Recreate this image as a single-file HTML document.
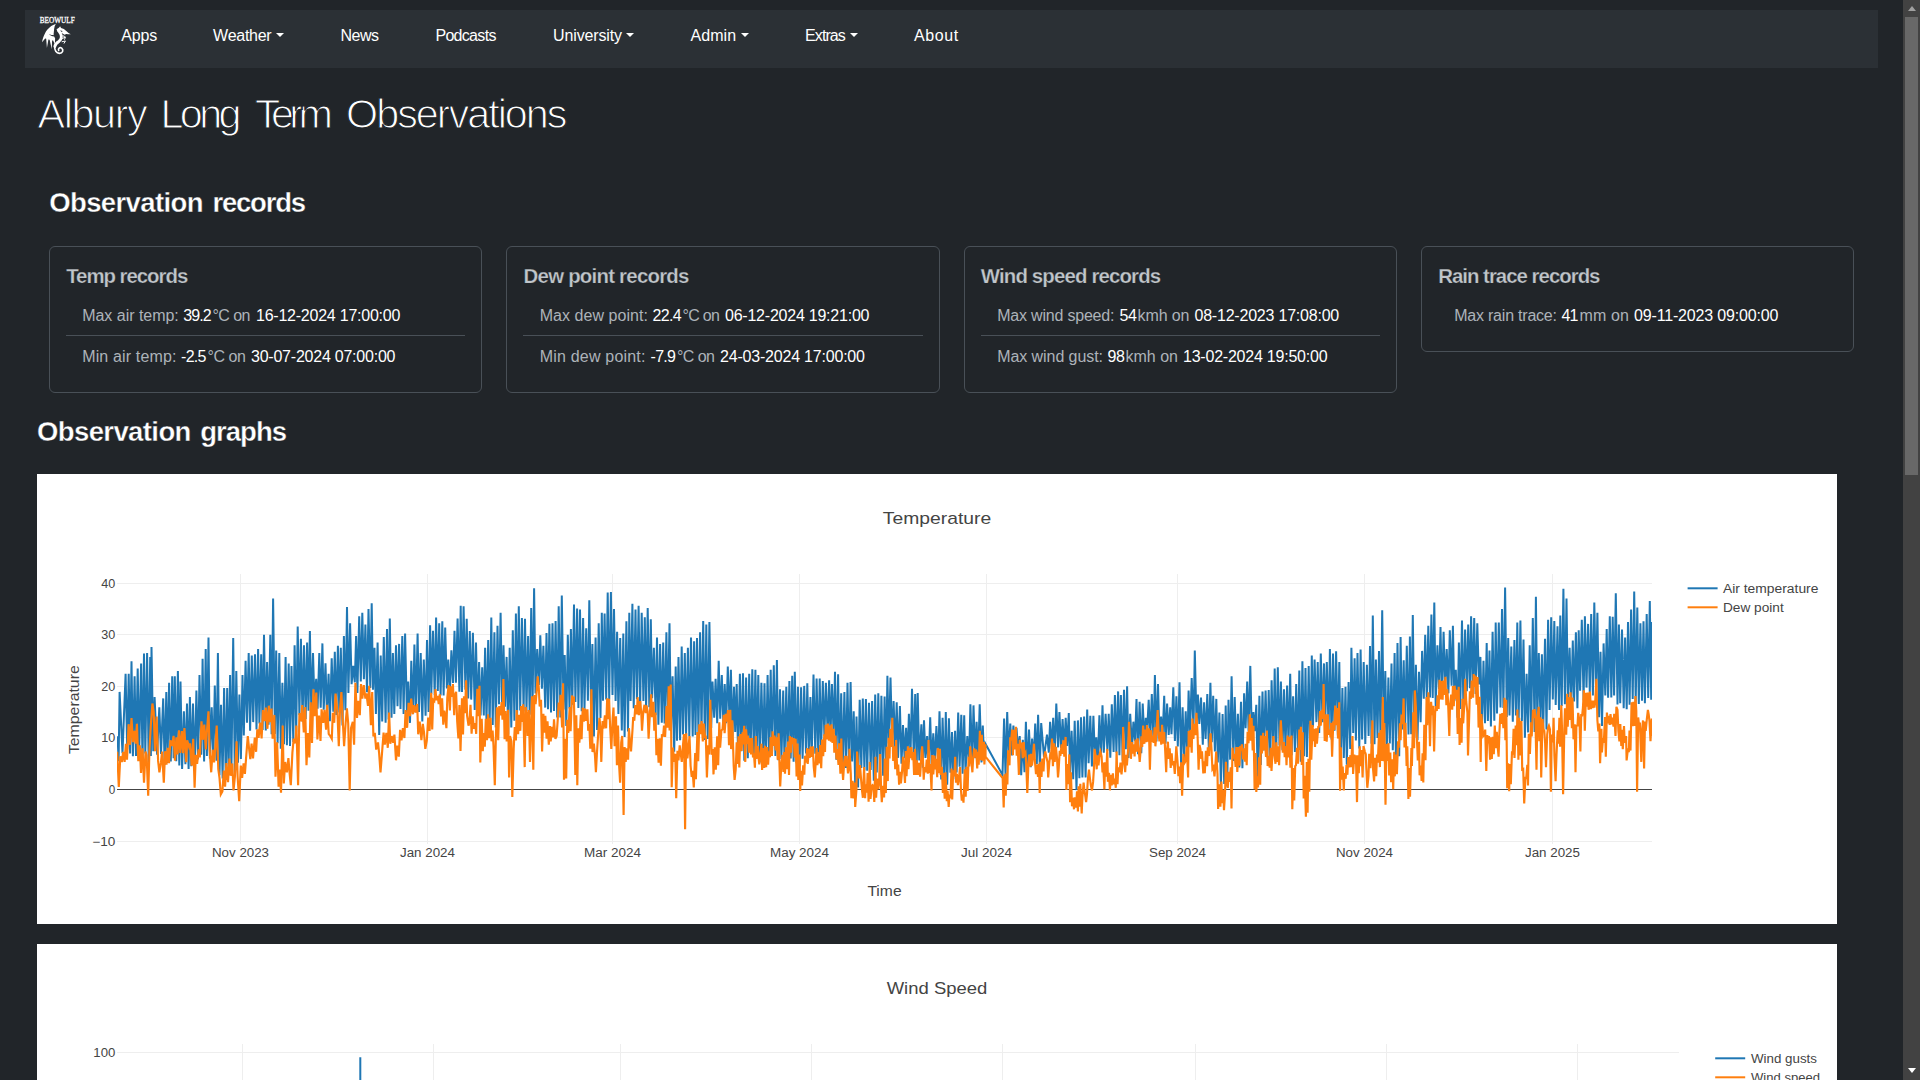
<!DOCTYPE html>
<html lang="en">
<head>
<meta charset="utf-8">
<title>Albury Long Term Observations</title>
<style>
html,body{margin:0;padding:0}
body{width:1920px;height:1080px;overflow:hidden;position:relative;background:#212529;font-family:"Liberation Sans",sans-serif;color:#dee2e6}
.t{position:absolute;margin:0;white-space:pre;line-height:1;font-weight:400;text-decoration:none}
h1,h2{position:absolute;left:0;top:0;margin:0;font-size:16px;font-weight:400;line-height:1;white-space:pre}
.navbar{position:absolute;left:25px;top:10px;width:1853px;height:58px;background:#2b3035}
.caret{position:absolute;top:23.2px;width:0;height:0;border-left:4.2px solid transparent;border-right:4.2px solid transparent;border-top:4.2px solid #fff}
.card{position:absolute;border:1px solid #495057;border-radius:6px;background:#212529}
.sep{position:absolute;left:16px;right:16px;height:1px;background:#495057}
.chart{position:absolute;left:37px;width:1800px;height:450px;background:#fff;overflow:hidden}
.plot{display:block}
.sb{position:absolute;left:1903px;top:0;width:17px;height:1080px;background:#424242}
.sb .thumb{position:absolute;left:2px;top:17px;width:13px;height:458px;background:#686868}
.sb .up{position:absolute;left:4.5px;top:6px;width:0;height:0;border-left:4px solid transparent;border-right:4px solid transparent;border-bottom:5px solid #a0a0a0}
.sb .down{position:absolute;left:4.5px;top:1068px;width:0;height:0;border-left:4px solid transparent;border-right:4px solid transparent;border-top:5px solid #fff}
.brand{position:absolute;left:11px;top:4px;width:44px;height:44px;display:block}
.brand svg{display:block}
.h1{-webkit-text-stroke:1.1px #212529}
.h2{-webkit-text-stroke:.35px #212529}
.ct{-webkit-text-stroke:.25px #212529}

</style>
</head>
<body>
<nav class="navbar">
<a class="brand"><svg width="44" height="44" viewBox="0 0 1080 1080" fill="#fff" stroke="none"><text x="522" y="218" font-family="Liberation Serif, serif" font-size="190" text-anchor="middle" textLength="860" lengthAdjust="spacingAndGlyphs" fill="#fff" stroke="#fff" stroke-width="7">BEOWULF</text><path d="M485,245C385,268 285,355 225,465C182,548 160,622 148,692L225,600L250,610L268,832L305,625L335,630L386,868L395,650L420,650L462,742L470,600C450,570 440,540 432,500C440,440 440,400 446,360C450,320 462,280 485,245Z"/><path d="M318,492C350,535 420,560 470,548L480,520C420,525 360,515 318,492Z" fill="#2b3035"/><path d="M505,372L562,340L592,300L615,345L684,366L742,420L806,470L856,498L792,500L742,488L702,512L642,470L584,462L528,440Z"/><path d="M600,400L650,420L640,445L596,432Z" fill="#2b3035" opacity=".75"/><path d="M650,515L722,548L700,566L640,548Z" opacity=".85"/><g fill="none" stroke="#fff" stroke-linecap="round" stroke-linejoin="round"><path d="M575,440C640,520 640,620 560,675C500,712 470,750 462,800" stroke-width="70"/><path d="M460,790C450,890 500,962 575,966C655,966 685,885 630,838C585,808 535,845 556,893" stroke-width="40"/><path d="M650,600L722,565L702,622M640,680L722,662L690,718" stroke-width="24"/></g><path d="M545,560a22,22 0 1,0 1,0Z M500,612a24,24 0 1,0 1,0Z" fill="#2b3035" opacity=".8"/></svg></a>

<a class="t" style="left:96.20px;top:17.76px;font-size:16px;letter-spacing:-0.133px;color:#fff;">Apps</a>
<a class="t" style="left:188.10px;top:17.76px;font-size:16px;letter-spacing:-0.267px;color:#fff;">Weather</a>
<i class="caret" style="left:251.1px"></i>
<a class="t" style="left:315.60px;top:17.76px;font-size:16px;letter-spacing:-0.567px;color:#fff;">News</a>
<a class="t" style="left:410.40px;top:17.76px;font-size:16px;letter-spacing:-0.686px;color:#fff;">Podcasts</a>
<a class="t" style="left:528.10px;top:17.76px;font-size:16px;letter-spacing:-0.144px;color:#fff;">University</a>
<i class="caret" style="left:601.0px"></i>
<a class="t" style="left:665.50px;top:17.76px;font-size:16px;letter-spacing:0.075px;color:#fff;">Admin</a>
<i class="caret" style="left:715.6px"></i>
<a class="t" style="left:780.10px;top:17.76px;font-size:16px;letter-spacing:-0.920px;color:#fff;">Extras</a>
<i class="caret" style="left:825.0px"></i>
<a class="t" style="left:889.10px;top:17.76px;font-size:16px;letter-spacing:0.600px;color:#fff;">About</a>
</nav>
<main>
<h1 class="h1"><span class="t" style="left:37.50px;top:93.94px;font-size:41.3px;letter-spacing:-1.360px;color:#fff;">Albury</span> <span class="t" style="left:160.50px;top:93.94px;font-size:41.3px;letter-spacing:-3.600px;color:#fff;">Long</span> <span class="t" style="left:254.90px;top:93.94px;font-size:41.3px;letter-spacing:-4.567px;color:#fff;">Term</span> <span class="t" style="left:346.10px;top:93.94px;font-size:41.3px;letter-spacing:-2.000px;color:#fff;">Observations</span></h1>
<h2 class="h2"><span class="t" style="left:49.20px;top:188.72px;font-size:27.5px;letter-spacing:-0.610px;color:#fff;font-weight:700;">Observation</span> <span class="t" style="left:212.50px;top:188.72px;font-size:27.5px;letter-spacing:-1.233px;color:#fff;font-weight:700;">records</span></h2>
<section class="cards">
<div class="card" style="left:49px;top:246px;width:431.25px;height:145px"><span class="t ct" style="left:16.20px;top:18.83px;font-size:20.4px;letter-spacing:-1.027px;color:#c0c5ca;font-weight:700;">Temp records</span><span class="t" style="left:32.20px;top:61.26px;font-size:16px;letter-spacing:-0.025px;color:#adb3b9;">Max air temp:</span><span class="t" style="left:133.30px;top:61.26px;font-size:16px;letter-spacing:-0.967px;color:#fff;">39.2</span><span class="t" style="left:162.50px;top:61.26px;font-size:16px;letter-spacing:-0.550px;color:#adb3b9;">°C on</span><span class="t" style="left:206.00px;top:61.26px;font-size:16px;letter-spacing:-0.233px;color:#fff;">16-12-2024 17:00:00</span><i class="sep" style="top:88px"></i><span class="t" style="left:32.20px;top:102.26px;font-size:16px;letter-spacing:0.150px;color:#adb3b9;">Min air temp:</span><span class="t" style="left:131.00px;top:102.26px;font-size:16px;letter-spacing:-0.700px;color:#fff;">-2.5</span><span class="t" style="left:157.50px;top:102.26px;font-size:16px;letter-spacing:-0.425px;color:#adb3b9;">°C on</span><span class="t" style="left:201.00px;top:102.26px;font-size:16px;letter-spacing:-0.228px;color:#fff;">30-07-2024 07:00:00</span></div>
<div class="card" style="left:506.25px;top:246px;width:431.25px;height:145px"><span class="t ct" style="left:16.35px;top:18.83px;font-size:20.4px;letter-spacing:-0.756px;color:#c0c5ca;font-weight:700;">Dew point records</span><span class="t" style="left:32.45px;top:61.26px;font-size:16px;letter-spacing:0.054px;color:#adb3b9;">Max dew point:</span><span class="t" style="left:145.25px;top:61.26px;font-size:16px;letter-spacing:-0.700px;color:#fff;">22.4</span><span class="t" style="left:175.25px;top:61.26px;font-size:16px;letter-spacing:-0.675px;color:#adb3b9;">°C on</span><span class="t" style="left:217.75px;top:61.26px;font-size:16px;letter-spacing:-0.228px;color:#fff;">06-12-2024 19:21:00</span><i class="sep" style="top:88px"></i><span class="t" style="left:32.45px;top:102.26px;font-size:16px;letter-spacing:0.200px;color:#adb3b9;">Min dew point:</span><span class="t" style="left:143.25px;top:102.26px;font-size:16px;letter-spacing:-0.700px;color:#fff;">-7.9</span><span class="t" style="left:169.75px;top:102.26px;font-size:16px;letter-spacing:-0.550px;color:#adb3b9;">°C on</span><span class="t" style="left:212.75px;top:102.26px;font-size:16px;letter-spacing:-0.200px;color:#fff;">24-03-2024 17:00:00</span></div>
<div class="card" style="left:963.5px;top:246px;width:431.25px;height:145px"><span class="t ct" style="left:16.30px;top:18.83px;font-size:20.4px;letter-spacing:-0.847px;color:#c0c5ca;font-weight:700;">Wind speed records</span><span class="t" style="left:32.70px;top:61.26px;font-size:16px;letter-spacing:-0.200px;color:#adb3b9;">Max wind speed:</span><span class="t" style="left:155.00px;top:61.26px;font-size:16px;letter-spacing:-0.300px;color:#fff;">54</span><span class="t" style="left:173.00px;top:61.26px;font-size:16px;letter-spacing:-0.100px;color:#adb3b9;">kmh on</span><span class="t" style="left:230.00px;top:61.26px;font-size:16px;letter-spacing:-0.211px;color:#fff;">08-12-2023 17:08:00</span><i class="sep" style="top:88px"></i><span class="t" style="left:32.70px;top:102.26px;font-size:16px;letter-spacing:-0.069px;color:#adb3b9;">Max wind gust:</span><span class="t" style="left:143.00px;top:102.26px;font-size:16px;letter-spacing:-0.300px;color:#fff;">98</span><span class="t" style="left:161.00px;top:102.26px;font-size:16px;letter-spacing:0.000px;color:#adb3b9;">kmh on</span><span class="t" style="left:218.50px;top:102.26px;font-size:16px;letter-spacing:-0.222px;color:#fff;">13-02-2024 19:50:00</span></div>
<div class="card" style="left:1420.75px;top:246px;width:431.25px;height:104px"><span class="t ct" style="left:16.45px;top:18.83px;font-size:20.4px;letter-spacing:-0.988px;color:#c0c5ca;font-weight:700;">Rain trace records</span><span class="t" style="left:32.45px;top:61.26px;font-size:16px;letter-spacing:-0.214px;color:#adb3b9;">Max rain trace:</span><span class="t" style="left:139.75px;top:61.26px;font-size:16px;letter-spacing:-0.800px;color:#fff;">41</span><span class="t" style="left:157.75px;top:61.26px;font-size:16px;letter-spacing:0.150px;color:#adb3b9;">mm on</span><span class="t" style="left:212.25px;top:61.26px;font-size:16px;letter-spacing:-0.161px;color:#fff;">09-11-2023 09:00:00</span></div>
</section>
<h2 class="h2"><span class="t" style="left:37.00px;top:417.62px;font-size:27.5px;letter-spacing:-0.610px;color:#fff;font-weight:700;">Observation</span> <span class="t" style="left:200.30px;top:417.62px;font-size:27.5px;letter-spacing:-1.000px;color:#fff;font-weight:700;">graphs</span></h2>
<div class="chart" style="top:474px"><svg class="plot" width="1800" height="450" viewBox="0 0 1800 450" font-family="Liberation Sans, sans-serif"><defs><clipPath id="cp1"><rect x="80" y="100" width="1535" height="270"/></clipPath></defs><path d="M203.5,100V370" stroke="#eee"/><path d="M390.5,100V370" stroke="#eee"/><path d="M575.5,100V370" stroke="#eee"/><path d="M762.5,100V370" stroke="#eee"/><path d="M949.5,100V370" stroke="#eee"/><path d="M1140.5,100V370" stroke="#eee"/><path d="M1327.5,100V370" stroke="#eee"/><path d="M1515.5,100V370" stroke="#eee"/><path d="M80,109.5H1615" stroke="#eee"/><path d="M80,160.5H1615" stroke="#eee"/><path d="M80,212.5H1615" stroke="#eee"/><path d="M80,263.5H1615" stroke="#eee"/><path d="M80,367.5H1615" stroke="#eee"/><path d="M80,315.5H1615" stroke="#444"/><g clip-path="url(#cp1)" fill="none" stroke-width="2"><path d="M80.6,262.2L81.6,287.3L82.6,217.9L85.5,279.1L88.6,199.7L90.2,275.4L91.7,199.7L93.1,279.5L94.5,187.3L95.9,282.2L97.6,202.3L99,282L100.7,194.5L102.2,277.8L104.1,189.4L105.5,288.1L107,179.5L108.3,279.6L110.1,179L111.7,289.8L113.2,182.9L113.9,282.1L114.5,173L116.3,277.2L117.6,223.1L120.1,280.8L122.3,233.4L124,279.9L126.2,224.4L127.6,291.1L129.3,217.9L130.5,289L132.1,208.8L133.8,287.4L135.2,202.3L136.6,284.2L137.8,202.3L139.2,287.2L140.9,197.1L142.3,291.6L143.5,207.5L145.1,294.9L146.9,237.3L148.4,290.2L150,229.5L151.6,294.9L152.9,223.1L154.3,292.3L156,229.5L157.7,295.5L159.4,216.6L161,285.3L162.5,201L164.3,280.7L165.6,184.7L167.1,287.6L168.7,175.1L169.9,281.9L171.5,163.4L172.9,284.6L174.7,233.4L176.3,286.8L177.8,211.4L179.5,286.8L180.9,179L182.5,301.3L184,230.8L185.6,304.5L187.1,214L188.8,305.9L190.2,214L191.6,297.3L193.1,201L194.4,296.2L196.2,163.9L197.8,299.4L199.3,197.1L201,288.7L202.4,220.5L203.9,285L205.5,201L206.8,261.6L208.6,186.8L210,248.8L211.7,179L213.1,256.7L214.8,181.6L216.2,248.1L218,180.3L219.5,255.6L221.1,175.1L222.4,249.4L224.2,180.3L225.6,256.1L227,160.8L228.8,256.5L230.1,188.1L231.6,250.8L233.3,160.8L234.6,260.3L236.1,124.5L237.9,259.9L239.2,176.4L240.6,269.2L242.3,179L243.8,274.7L245.4,208.8L247,270.2L248.6,182.9L249.9,271.3L251.7,189.4L253,272.1L254.5,191.9L256.3,267.9L257.6,171.2L259.2,258.2L260.7,152.5L262.4,240.9L263.9,164.7L265.6,247.8L267,171.2L268.7,245L270.1,168.6L271.5,236.7L272.9,156.9L274.3,237.1L276,179L277.4,226.1L279.2,204.9L280.6,234.7L282.3,179L283.7,233.8L285.4,169.4L286.7,235.8L288.5,189.4L289.9,239.4L291.6,199.7L292.9,247.2L294.7,184.2L296.3,237.7L297.8,177.7L299.3,241.1L300.9,171.7L302.3,238.5L303.8,173.8L305.5,251.4L306.9,162.1L308.4,236.2L310,133.1L311.4,219.1L313.1,149.2L314.6,210.2L316.2,191.9L317.8,208.3L319.1,162.1L320.4,219L322.2,142.2L323.8,207.4L325.3,138.8L326.9,205.3L328.4,150.5L330,218.2L331.5,134.9L333.3,213.9L334.7,129.2L336,215.7L337.5,173.8L338.9,239.9L340.6,168.6L342.2,260.9L343.7,181.6L345.2,247.5L346.8,162.9L348.6,248.7L350,155.1L351.6,245.4L352.8,144.5L354.5,243.7L355.9,179L357.3,239.9L359,171.2L360.5,232.3L362.1,169.9L363.5,235L365.3,162.1L366.6,240.1L368.1,159.5L369.9,238.6L371.2,207.5L373,248.9L374.3,186.8L376.1,240.1L377.4,170.4L378.9,238.2L380.6,159.5L382,237.9L383.7,179L385.3,247.6L386.8,185.5L388.6,241.7L390,166L391.6,238.1L393.1,151.2L394.3,219.6L396,156.9L397.7,221.3L399.1,143.5L400.8,217.1L402.2,149.2L403.6,221.4L405.3,147.3L406.6,221.6L408.2,153.6L409.9,214.4L411.3,185.5L412.8,219.8L414.4,176.4L416,208.9L417.5,156.9L418.9,208.6L420.6,144.5L422.4,217.8L423.7,131.8L425,218.1L426.6,132.3L428.4,215.7L429.7,144.8L431.2,224.6L432.8,156.9L434.2,225.6L435.9,158.8L437.7,235.9L439,168.6L440.6,241.1L442.1,188.1L443.6,241.4L445.2,193.2L446.8,241.5L448.1,173.8L449.5,248.4L451.2,166L452.6,252.9L454.3,143.5L455.7,251L457.4,158.2L458.8,253.4L460.5,151.8L462,230.3L463.6,138.8L465.1,234.4L466.5,171.2L468,232.7L469.6,182.9L471.2,260.6L472.7,173.8L474.3,253.4L475.8,156.2L477.4,246.7L478.9,139.6L480.1,241L481.8,132.3L483.2,236.5L484.9,144L486.6,237.6L488,144.8L489.5,237.1L491.1,162.1L492.7,240.8L494.2,134.1L495.5,237.7L497.1,114.2L498.5,219.4L500.2,175.1L501.9,211L503.3,161.3L504.9,214.8L506.4,171.7L508.2,233.6L509.5,159L511,235.2L512.4,149.7L514,238.6L515.5,149.2L517,237.1L518.6,147.1L520.2,243.6L521.7,132.3L523.4,243.5L524.8,121.4L526.5,235.6L527.7,181.1L529.3,252L530.8,160.8L532.5,234.4L533.9,155.1L535.3,230.8L537,130.5L538.4,228L540.1,134.4L541.4,234L543,135.4L544.7,237.2L546.1,144L547.5,234.7L549.2,154.3L550.9,226.7L552.3,126.3L554.1,238.2L555.4,169.9L556.9,262.6L558.6,163.4L560.1,256.1L561.7,149.2L563.5,244L564.8,138.8L566,226.8L567.6,139.6L569.2,225.5L570.7,118.6L572.2,225.2L573.9,118L575.5,221L577,134.9L578.6,226.9L580.1,157.7L581.4,239.9L583.2,163.9L584.8,256.5L586.3,159.5L587.6,263.1L589.4,147.3L591,257.6L592.3,138.8L593.6,227.1L595.4,129.7L596.7,234.3L598.5,135.4L599.9,225.2L601.6,131.8L603.1,236.1L604.7,138.8L606.4,227L607.8,143.2L609.1,236.2L610.7,133.9L612.3,233.2L613.8,145.3L615.1,224.2L616.9,173.8L618.6,241.2L620,163.4L621.4,250.8L623.1,169.9L624.8,248.8L626.2,168.6L627.6,249.6L629.4,158.2L630.7,249.7L632.5,149.2L634,256.7L635.6,202.3L637.2,277.8L638.7,192.5L640,266.7L641.5,182.9L643.1,266.2L644.7,172.5L646,260.6L647.8,179L649.1,261.2L650.9,173.8L652.3,262.6L654,163.4L655.7,262.4L657.1,167.3L658.5,260.9L660,163.9L661.4,258.6L663.1,158.2L664.5,258.6L666.2,147.1L667.8,266.1L669.3,150.5L670.7,265L672.4,147.9L674.2,254L675.5,207.5L677.2,243.7L678.6,204.9L680.2,249.3L681.7,186.8L683.2,244.7L684.8,201L686.4,251.4L687.7,210.1L689.2,249.3L690.8,192.5L692.5,246.5L693.9,195.8L695.4,262.5L697,212.7L698.2,257.9L699.7,210.1L701.1,284.3L702.9,199.7L704.3,277.2L706,199.2L707.3,286.7L709.1,203.6L710.8,284.3L712.2,199.7L713.6,278.3L715.3,195.3L716.8,281.4L718.4,195.8L719.7,281.2L721.3,201L722.7,288.4L724.4,208.8L726.2,282.6L727.5,209.3L728.9,288.4L730.6,201L732.1,279.9L733.7,195.8L735,280.3L736.8,191.2L738.4,282L739.9,186L741.3,286.2L743,215.3L744.4,285.1L746.2,216.6L747.5,287L749.3,212.7L750.6,281.7L752.4,207L753.7,284.4L755.2,201.8L756.6,287.8L757.8,197.7L759.5,289.3L760.9,212.7L762.6,292.4L764.1,213.2L765.6,284.7L767.2,211.9L769,279.5L770.3,209.3L771.9,280L773.4,223.1L774.7,282.7L776.5,200.5L778.3,279.8L779.6,204.4L781.3,282.4L782.7,204.4L784.1,275.7L785.8,207L787.4,262L788.9,208.8L790.7,261.9L792.1,206.2L793.5,262.8L794.9,210.1L796.6,260L798,197.7L799.4,285.7L801.1,200.2L802.5,290.4L804.2,219.2L805.6,297L807.4,217.9L808.9,294.1L810.5,208.8L812.1,294.8L813.6,208L815.1,287.4L816.7,237.3L818.3,316.5L819.5,242.5L821.1,313.5L822.7,225.7L824.3,294L825.8,224.4L827.4,296.6L828.9,224.9L830.2,296.8L832,228.8L833.7,296L835.1,227L836.8,306.7L838.2,220.5L839.8,298.4L841.3,219.2L842.9,302.7L844.4,221.8L846.1,301.7L847.6,222.5L849.1,289.3L850.4,201.8L851.8,269.4L853.5,203.6L855.2,270.1L856.6,227L858.2,276.2L859.7,228.3L861.1,283.9L862.9,232.1L864.5,289.8L866,251.1L867.6,284.2L869.1,253.7L870.5,286.6L871.9,239.9L873.5,281.8L875,214.8L876.8,282.9L878.2,220L879.7,293.2L880.7,218.9L882.3,286.5L884.4,250.3L885.8,293.7L887,246.4L888.5,283.9L890.1,262L891.5,293.4L893.2,243.3L894.6,290.2L896.3,259.4L897.7,290L899.4,252.1L901.2,289L902.5,237.3L904.2,305.4L905.6,243.8L907.4,308.1L908.8,238.1L910.2,310.8L911.9,244.3L913.4,298.6L915,258.1L916.3,305.2L918.1,256.8L919.6,298.4L921.2,238.6L922.6,292.7L924.3,240.7L925.6,299.7L927.2,241.2L928.5,298.4L930.3,262L932,288.3L933.4,230.3L935.2,290.1L936.5,231.4L938.3,284.2L939.6,247.7L941.1,285.6L942.7,230.3L944.5,288.4L945.8,251.6L947.1,286.1L948.4,269.7L965.5,300.9L967.1,244.6L968.5,301.5L970.2,238.1L971.6,280.1L973.3,249.5L974.8,281.5L976.4,251.6L977.9,272.2L979.5,253.7L981.1,276L982.7,262L984.2,301.1L985.8,265.9L987.5,298.3L988.9,247.7L990.5,299L992,255.5L993.8,293.1L995.1,264.6L996.8,285.4L998.2,249.5L999.8,290.3L1001.1,240.7L1002.8,292.3L1004.2,249L1007,283L1010,260.7L1011.8,278.7L1013.1,247.7L1014.7,274.6L1016.2,243.8L1017.7,280.1L1019.3,229.5L1021.1,273.4L1022.4,238.1L1024.1,274L1025.6,245.1L1027.1,275.3L1028.7,243.8L1030.1,272L1031.8,239.1L1033.1,301.7L1034.6,256.8L1036.2,305.2L1037.7,246.9L1039.5,316.1L1040.9,246.4L1042.4,304.1L1044,243.3L1045.4,303.4L1047.1,242.5L1048.6,303.4L1050.2,235.5L1051.6,289.3L1053.3,241.7L1054.9,292.5L1056.4,241.7L1058,285.9L1059.3,263.3L1060.8,287.5L1062.4,241.2L1063.9,282.4L1065.5,231.4L1066.8,278.8L1068.6,239.9L1070.4,276.7L1071.7,239.9L1073.3,283.7L1074.8,230.3L1076.6,278L1077.9,221L1079.4,278.4L1081.1,217.4L1082.4,281.2L1083.9,221L1085.7,286.8L1087,215.8L1088.8,275.2L1090.1,212.2L1091.5,284L1093.2,239.9L1095,273.8L1096.4,247.7L1098,267.2L1099.5,225.1L1101,280.1L1102.6,227.7L1104.3,279.1L1105.7,229.5L1107.5,267.6L1108.8,243.8L1110,258.9L1111.7,225.7L1113.2,266.3L1114.8,220L1116.5,266.9L1117.9,201L1119.5,267.5L1121,210.1L1122.5,264.5L1124.1,242.5L1125.4,267.7L1127.2,221.8L1128.5,269.7L1130.1,229.5L1131.7,261L1133.2,233.4L1134.5,260.3L1136.3,213.2L1137.9,266.9L1139.4,222.3L1140.8,272.4L1142.5,208.3L1144.1,290.9L1145.6,233.4L1147.1,285.8L1148.7,237.3L1150.2,282.9L1151.6,216.6L1153,257.9L1154.7,204.1L1156.5,255.4L1157.8,176.4L1159.6,253.1L1160.9,220.5L1162.3,249.9L1164,223.6L1165.8,270.6L1167.1,228.3L1168.6,264.9L1170.3,220L1171.8,274L1173.4,208.8L1174.8,268.2L1176.2,221.8L1177.9,277.5L1179.3,224.9L1180.8,288.5L1182.4,238.6L1183.9,313.2L1185.6,239.9L1187.2,310.1L1188.7,231.4L1190.2,312.6L1191.5,225.7L1193.1,285.6L1194.6,202.3L1196.4,287.1L1197.7,223.1L1199.5,285.9L1200.9,239.9L1202.3,293.4L1204,227.7L1205.4,294.2L1207.1,219.2L1208.6,254.2L1210.2,207.5L1211.6,257.4L1213.3,191.9L1214.9,264.9L1216.4,238.1L1217.7,257.1L1219.3,230.8L1220.7,306.7L1222.4,221.8L1223.8,290.9L1225.5,217.4L1226.8,276.5L1228.6,216.6L1230.4,283.4L1231.7,216.1L1233.3,285L1234.6,206.2L1236.3,275.6L1237.7,194.5L1239.1,284.1L1240.8,193.2L1242.5,271.5L1243.9,207.5L1245.5,276.3L1247,215.3L1248.5,275.7L1250.1,211.4L1251.5,271.1L1253.2,199.7L1254.6,281.1L1256.1,222.3L1257.9,278L1259.2,210.1L1261,279.1L1262.3,196.6L1263.8,287.7L1265.4,187.3L1267.1,282.3L1268.5,194L1269.9,282.9L1271.7,191.9L1273.1,284.1L1274.8,181.6L1276,252.8L1277.6,185.5L1279.4,248.1L1280.7,188.1L1282.2,259.1L1283.8,179.5L1285.5,248.3L1287,189.4L1288.1,253.6L1289.8,188.1L1291.6,256.5L1292.9,175.1L1294.6,265.5L1296,179.5L1297.5,256.7L1299.1,177.2L1300.9,261.5L1302.3,188.1L1303.7,288.9L1305.4,214L1306.8,284L1308.5,212.7L1309.8,290.7L1311.6,208L1313.2,275.1L1314.4,173.8L1316.2,259.1L1317.6,184.2L1318.9,266.4L1320.5,179L1322.3,274.4L1323.6,175.6L1325.1,265.5L1326.7,188.1L1328.3,270.1L1329.9,190.7L1331.6,261.9L1333,172L1334.5,269.7L1335.8,141.4L1337.5,270.2L1338.9,185.5L1340.5,264L1342,176.9L1343.5,264.4L1345.2,136.2L1346.9,269.6L1348.3,197.1L1349.7,279L1351.4,203.6L1352.8,269.4L1354.5,189.4L1355.8,276.2L1357.6,179L1358.9,282.2L1360.5,169.1L1362.2,282.3L1363.6,162.9L1365,255.5L1366.7,186.2L1368,261.3L1369.8,171.7L1371.5,260.6L1372.9,162.6L1374.2,260.2L1375.8,140.9L1377.4,263.8L1378.9,190.7L1380.5,266.2L1382,197.7L1383.6,248.3L1385.1,176.9L1386.8,224.8L1388.2,160.8L1389.8,225.9L1391.3,151.8L1393,223.4L1394.4,140.6L1395.7,224.1L1397.3,128.4L1398.7,232.7L1400.4,171.2L1402,214.9L1403.5,153.1L1405,224.2L1406.6,157.7L1408.2,213.5L1409.7,175.1L1411.4,219.4L1412.8,156.2L1414.6,211.7L1415.9,151.8L1417.4,226.8L1418.8,195.8L1420.5,243.8L1421.9,168.6L1423.2,235.1L1425,146.6L1426.4,233.7L1428.1,155.6L1429.9,217.2L1431.2,150.5L1432.9,214.2L1434.1,142.2L1435.8,215.3L1437.2,144L1438.6,219.9L1440.3,149.2L1442.1,210.5L1443.4,182.9L1445,249.8L1446.5,186.8L1448,249.2L1449.7,169.1L1450.9,246.9L1452.5,176.4L1453.9,252.4L1455.6,157.7L1457.3,246.8L1458.7,148.6L1460,239.4L1461.8,148.6L1463.5,233.6L1465,134.9L1466.4,233.9L1468.1,113.6L1469.8,242.9L1471.2,163.9L1472.5,241.5L1474.3,172.5L1475.8,247.8L1477.4,166L1478.9,241.4L1480.3,148.4L1481.6,249.8L1483.4,146.6L1484.9,247L1486.5,165.5L1487.9,263.8L1489.6,199.7L1491.1,258.4L1492.7,171.2L1494.2,256.3L1495.8,144L1497.6,258L1498.9,122.7L1500.3,246.8L1501.8,179L1503.5,246.8L1504.9,180.3L1506.2,256.6L1508,164.7L1509.5,255.5L1511.1,145.8L1512.6,236L1514.2,143.2L1515.8,225.5L1517.3,147.1L1518.7,231L1520.5,152.3L1522,236L1523.3,141.4L1524.7,232L1526.4,114.7L1527.9,230.3L1529.5,124.5L1530.9,227.1L1532.6,173.8L1534.2,233.6L1535.8,166.5L1537.1,227.5L1538.9,158.2L1540.4,234.2L1541.7,156.2L1543.1,216.7L1544.8,145.8L1546.6,226.5L1547.9,142.2L1549.5,213.6L1551.1,149.9L1552.8,218.3L1554.2,140.1L1555.9,221.6L1557.3,128.4L1559,215.1L1560.4,138.8L1562.1,243.2L1563.5,177.7L1565,252L1566.6,169.4L1568.3,221.4L1569.7,155.1L1571.1,223.7L1572.8,142.2L1574.3,223.4L1575.7,142.7L1577.1,221.5L1578.8,119.3L1580.5,230.6L1581.9,150.5L1583.2,229.2L1585,155.6L1586.7,234.2L1588.1,163.4L1589.7,235.3L1591,147.9L1592.6,230.7L1594.1,135.4L1595.7,224.9L1597.2,117.5L1598.7,228.8L1600.3,133.6L1601.8,229.9L1603.4,149.2L1605,226.8L1606.5,147.3L1607.9,229.3L1609.7,140.1L1611.2,224L1612.8,127.1L1614.2,225.7L1614.6,147.9L1615,199.7" stroke="#1f77b4"/><path d="M80.2,277.8L81.8,313L83.3,282.3L84.8,288L86.2,277.8L87.6,287.8L88.9,269.8L90,285.6L91.6,250.2L93.1,270.8L94.5,244L96,268.1L97.3,256.9L98.7,269.7L99.9,249.9L101.3,287.1L102.8,271.2L104,299L105.5,274.2L107,308.6L108.5,277.5L109.6,281.1L111.2,321.6L112.4,277.4L113.8,251.8L115.4,229.5L116.7,238.2L118,277.3L119.6,242.6L121.1,286.9L122.4,298.3L123.9,288.9L125.1,277.5L126.8,308.6L128.1,277.2L129.5,290.7L130.7,273.9L132,289.2L133.4,266.4L135.1,272L136.6,261.8L138,286.8L139.4,263.4L140.5,280.5L142,256.3L143.3,279L144.9,257L146.1,279.3L147.4,254.1L149.2,288.1L150.2,266.2L152,272.8L153,269.3L154.7,291.7L156.2,264.9L157.6,313.8L158.8,280.8L160.1,289.8L161.7,275.4L162.8,283.4L164.5,247.2L165.8,265.8L167.3,250.6L168.8,275.5L169.8,258.8L171.5,237.3L172.6,275.7L174.2,298.3L175.7,275.7L177.1,288.5L178.2,275.1L179.7,251.6L181.3,295.2L182.5,303.8L183.8,320.3L185.4,317.4L186.8,296.5L188.1,312.7L189.4,289.1L191,308.2L192.5,284.5L193.7,301.8L195.3,289.5L196.5,316.4L197.9,302.6L199.6,267.2L200.6,302.5L202.2,327.2L203.8,291.5L205.1,303.9L206.6,289.4L207.9,299.8L209,285.2L210.8,262L212,273.8L213.3,285.1L214.6,269.7L216,284.5L217.8,263.7L219.1,277.8L220.3,255.3L221.6,263.9L223.1,248.6L224.6,264.5L226,236.1L227.5,247.1L228.8,233.7L230.4,254.8L231.8,231.7L233.1,248.1L234.5,234.5L235.6,264.6L237.3,240.9L238.5,302.7L240.1,268.2L241.6,312.8L242.8,295.6L244,318.6L245.7,251.6L246.8,309.5L248.2,288L249.9,298.3L251.4,284.2L252.7,300.2L253.8,311.2L255.4,278.6L256.7,264.6L258.3,269.3L259.4,251.6L261.1,311.2L262.4,239.3L264,247.2L265.2,231L266.8,258.4L268.2,233.1L269.5,291.3L270.9,259.1L272.3,283.5L273.7,228.4L275,269L276.5,215.4L277.6,242.1L279.3,218.6L280.4,265.4L282,241.5L283.5,267L284.6,235.3L286.2,248.8L287.5,235.8L289.1,255.6L290.2,230.8L291.7,259.9L293.3,262L294.8,264.8L295.8,238.9L297.2,248.8L298.6,219.6L300.4,237.7L301.8,272.3L303,235.7L304.4,218.1L305.6,243.8L307.1,272.3L308.7,248.2L309.9,234.4L311.2,249.3L312.7,316.4L314,254.2L315.8,247.8L317.1,270.7L318.4,208.8L320,244L321.2,226.9L322.8,241.2L324,210.1L325.3,224.7L326.8,211.1L328.4,224.5L329.4,219.4L331,231.9L332.2,211.8L333.9,251.2L335.2,218L336.4,262.4L337.8,258.9L339.2,275.6L341,268.4L342.1,278.8L343.5,298.3L345.2,276.6L346.6,258.7L347.8,270.5L349.4,258.8L350.8,273.8L352.1,238.6L353.3,269.8L354.7,262.1L356.2,268.8L357.4,260.6L359,286.3L360.3,271.5L361.8,282.7L363.1,255.9L364.5,266.4L365.9,254.2L367.4,264L368.6,236.1L370.1,253.8L371.6,228.9L373.1,242.1L374.2,224.6L375.8,240.1L377.1,231.2L378.5,238.5L380.2,230L381.2,260.3L382.7,247.7L384.4,266.2L385.8,249.9L387,258.4L388.3,274.9L389.8,266.7L391.2,243.6L392.6,256.9L394.2,218.9L395.2,255.4L396.2,225.8L397.3,227L398.5,215L399.3,226.1L400.7,221.9L401.7,230.1L402.8,220.3L404.1,242.5L405.1,224.4L406.3,250.7L407.3,236.7L408.1,241.1L409.4,254.2L410.3,223.9L411.6,211L412.9,236.5L413.7,212.3L415.1,222.9L415.9,210L417.2,241.2L418,221.2L419.1,217.9L420.2,247.4L421.4,264.4L422.4,231L423.5,277L425,224.3L426,260.4L427,222.3L428,239.3L429.1,206.2L430.1,241.6L431.5,251.6L432.4,248.4L433.5,230.8L434.6,259.7L435.7,242.4L436.9,254.8L438.2,249L439.2,259.9L440.3,214.9L441.4,242.3L442.5,211.7L443.3,288.4L444.7,244.8L445.8,277.1L446.7,259L447.8,272.7L448.8,244.9L450,266.1L451.1,240.4L452.1,264.2L453.5,243.9L454.5,267.3L455.6,256.6L456.5,271.8L457.8,311.2L458.8,265.6L459.9,233.2L461.2,266.1L462.2,232.1L463.5,241.3L464.6,228.1L465.5,245.6L466.4,204.9L467.6,265.2L468.6,237.1L469.7,267.5L471.1,235.7L472.1,303.5L473,261.9L474.4,267.2L475.3,322.9L476.7,274.6L477.8,253.1L478.9,266.5L479.7,236L481.1,260.3L482.1,240.7L483.3,256.8L484.2,232L485.5,247.8L486.2,230.4L487.7,293.1L488.7,232.9L489.7,239.6L490.6,262L491.8,236.1L493,287.9L494.3,241.2L495,222.2L496.3,295.7L497.3,220.9L498.6,230.2L499.5,219.3L500.7,202.3L501.8,214.3L502.7,232.5L504,225.8L505.1,277.5L506.4,239.9L507.1,258.7L508.3,241.9L509.6,264.8L510.5,247.4L511.8,270.7L513,252.1L513.7,267.5L515.1,252.9L516.2,263.4L517,245.3L518.4,264.9L519.6,262L520.7,246.1L521.7,228.5L522.7,236.1L523.6,220.8L525.1,253.4L526.1,209.2L527,305.7L528.1,264.9L529.2,304.5L530.3,245.8L531.3,258.9L532.7,233.1L533.6,257.3L535,221.5L536.1,229.2L536.9,222.4L538.3,300.9L539.3,241.2L540.3,311.2L541.3,254.3L542.4,268.7L543.8,240.7L544.6,265.2L545.7,233.7L546.8,247.7L548,234.7L549.1,246.9L550.4,235.3L551.2,256.8L552.3,250L553.3,274.6L554.4,215.3L555.5,278L556.9,269.6L558,281.9L558.9,298.3L560,278L561.2,259.9L562.5,243.8L563.3,252.9L564.3,287.9L565.6,247.1L566.6,254.7L567.9,241.3L569.1,254.3L570.2,224.4L571.2,245.2L572.1,224.8L573.1,252.7L574.3,274.9L575.7,244.3L576.5,233.6L577.6,272.2L579,242.2L579.9,291.3L581,251.5L582,289L583.1,308.6L584.2,268.6L585.2,262L586.6,341.1L587.6,273.1L588.7,287.8L589.7,274.3L591.1,285.7L591.9,254.2L592.9,267.3L594,277.5L595.5,255.8L596.2,243L597.3,246.6L598.4,231L599.9,240.3L600.6,223.2L601.9,241.2L603.2,227.2L604.3,239.7L605,256.8L606.3,237.5L607.5,230.8L608.7,239.1L609.5,231.4L610.6,237L611.6,264.6L613,237.8L614.2,220.4L615,243.1L616.4,227.8L617.3,256.6L618.5,238.4L619.4,281.3L620.5,264.9L621.6,288.8L622.8,264.4L623.9,291.8L624.9,261.3L626.2,261.6L627,251.7L628.1,262.9L629.6,232L630.7,253.7L631.7,212.2L632.6,256.5L633.7,210.6L634.7,313.3L635.9,273.6L637.3,287.9L638.3,279.8L639.2,324.2L640.5,276.9L641.5,286.5L642.7,271.3L643.5,278.1L644.8,287.9L645.9,272.1L647,260.1L648.1,355.3L649.2,259.2L650.4,284.4L651.2,277L652.5,262L653.6,291.8L654.7,303L655.6,296.8L656.8,313.4L658.2,279.1L658.9,305.1L660.4,258L661.2,287.2L662.3,250.4L663.5,260.1L664.6,247.1L665.8,267.4L666.8,249.6L668.1,263L668.8,262.8L669.9,303.5L671.2,271.2L672.2,280.6L673.3,225.7L674.7,280.8L675.8,275L676.5,300.4L677.8,273.2L678.8,295.7L680.2,262.3L681.2,291.2L682.3,248.3L683.1,273.7L684.4,256.5L685.5,255.3L686.8,240.8L687.6,259.1L689,239.9L689.8,247.6L691,236L692,271.3L693.3,235.7L694.1,275.1L695.3,246.4L696.7,291.9L697.6,306L698.7,295.6L699.7,268.2L700.5,289.9L701.5,262.2L702.3,293.5L703.3,260.1L704.5,276.9L705.6,258.3L706.2,270.4L707.2,251.8L708.3,287.9L709.1,255.2L710.1,269.9L710.9,261.5L711.9,278.8L712.8,264.1L714.1,280.3L715,264L716,283.4L716.9,279.2L717.9,293.7L718.8,262L719.4,285L720.7,272.1L721.7,284.9L722.3,290.5L723.2,281.2L724.5,269.7L725.1,295.9L726.4,274.1L727.4,293.9L728,271.8L729.1,293.3L730.2,273.1L731.1,290.8L731.9,277.4L733,283.2L733.6,263L734.9,282L735.6,257.3L736.7,271.8L737.5,261.6L738.8,276.3L739.8,263.3L740.7,285.6L741.6,259.4L742.2,281.8L743.2,312.5L744.3,290.8L745.5,280.8L746.4,298L747.1,278L748,299.6L748.9,273.4L749.9,295.3L751.1,267.6L752,300.9L752.8,262L754,278.6L754.8,263.2L755.5,270.1L756.7,264.1L757.7,283.4L758.6,264.8L759.6,302.5L760.5,269.6L761.3,306L762.6,280.4L763.2,316.9L764,296.9L765,311.5L766.2,291.4L767.3,300.7L768,281.7L769,288.7L770.2,274.1L770.7,289.9L772,275.2L772.7,284L773.6,272.5L774.8,282.8L775.8,272.3L776.7,292.3L777.8,303.5L778.7,288.8L779.6,274.1L780.4,291.1L781.4,278.1L782.4,289.5L783.2,271L784.2,294.3L785.1,265.5L786.2,282.1L787.3,260.2L788,278L788.7,250.7L790,265.4L790.8,249.6L792,266.7L792.8,251.5L793.9,267.7L794.5,250.2L795.5,269L796.7,254.9L797.3,278.6L798.5,261.5L799.5,285.5L800.3,275.1L801.5,291L802.1,269.4L803.4,299.6L804.3,264.6L804.9,288L806.1,306L807.2,287.9L808.1,281.9L809.1,292.5L809.7,281.9L811,299.3L812,292.9L812.5,274.9L813.8,299.7L814.4,324.3L815.6,306.9L816.5,324.5L817.7,308.6L818.2,333L819.4,316.1L820.1,277.5L821.3,295.2L822.1,304.4L823,291.1L824,304.4L825,316.4L825.9,323.8L827.1,293.1L828.1,324.1L828.7,310.2L829.9,318.5L830.6,299.1L831.6,327.7L832.8,287.9L833.5,325L834.7,312.6L835.5,311.2L836.4,311.9L837.3,327.9L838.5,282.7L839.1,323.6L840.1,304.7L841.3,315.1L842.1,309.3L843.2,280.1L844.1,315.3L844.8,328.1L845.9,311.7L847.1,323.4L847.7,284.4L848.8,319.1L849.7,272.8L850.8,307.1L851.6,263.8L852.5,284.4L853.3,254.7L854.6,272.8L855.3,243.8L856.2,287L857.3,272.4L858.2,295.3L859.1,266.1L860.4,301.4L861.2,290.6L862.1,310.7L863.2,297.7L863.9,309.5L865,298L866,282.7L867,293.8L868,308.9L868.8,277L869.5,302.1L870.9,272.3L871.4,295.1L872.8,273.7L873.6,284.1L874.3,273.1L875.4,286.2L876.2,278.1L877.1,300.9L878,274.9L879.2,300.9L879.9,286.3L881.2,300.8L882,288.9L883.1,302.7L884.1,286.2L885.1,272.3L885.9,283.8L886.7,305.6L887.5,293.1L888.8,298.2L889.7,285.7L890.8,299.7L891.5,265.9L892.5,299L893.3,290L894.5,316.4L895.3,281L896.3,300.4L897.5,281.5L898.3,295.4L899,284.7L900.2,303.2L900.8,273.9L901.8,299.2L902.9,274.8L903.7,300.9L904.8,292.8L905.9,319L906.6,299.1L907.7,324.8L908.5,298.3L909.8,327.2L910.6,316.8L911.7,333L912.4,320.7L913.5,324.1L914.5,294.5L915.2,325.5L916.2,296.2L917.4,302.2L918.2,282.7L919,308.7L919.9,299.8L920.9,311.2L921.9,304.5L923.1,293.1L924,316.7L924.8,326.7L925.6,320.5L926.5,328.7L927.8,295.4L928.7,322.8L929.4,292.7L930.6,317L931.6,282.7L932.2,292.5L933.2,272.3L934.2,285.5L935.4,298.3L936.2,283.3L937.2,274.3L938.1,283.5L939.2,275.6L940.2,294.5L941.1,277.8L941.7,290.6L942.9,256.9L943.7,286.2L944.8,260.8L945.6,286.6L946.9,267.7L947.4,290.5L948.5,270.3L948.5,282.7L965.2,303.5L965.6,302.3L966.7,333.5L967.5,300.2L968.7,321.6L969.5,298.7L970.4,310.5L971.1,276.2L972.5,291.3L973.2,263.4L974.1,266.5L975.2,255.5L975.9,281.3L976.8,255.9L978.2,275.5L978.9,252.7L979.7,281.6L980.6,269.8L981.9,300.9L982.8,265.9L983.6,274.3L984.8,268.5L985.7,284.2L986.7,268.1L987.4,280.7L988.5,278.7L989.2,289.3L990.3,319L991.5,288.8L992.2,280.6L993.4,292.6L994,279.9L995,291.6L995.9,283.4L997,269.7L997.8,285.7L999,300.1L999.7,290.6L1001,303L1001.9,289.8L1002.7,319L1003.4,287.7L1004.5,302.9L1005.3,284.6L1006.5,297.5L1007.3,282.2L1008.3,277.5L1009.2,282.3L1010.5,287.9L1011.2,303.5L1012.3,289.2L1013.4,278.4L1013.9,285.4L1015,264.6L1015.9,292.3L1017.2,269.2L1017.7,287.8L1018.9,272.8L1020,284L1021,303.5L1021.6,296.7L1022.7,276.9L1023.4,281.9L1024.6,270.3L1025.7,280L1026.3,266.3L1027.3,282.8L1028.6,262.9L1029.4,315.9L1030.3,290.1L1031.4,310.1L1032.3,280.4L1033.1,328.2L1033.9,298.3L1035,332.3L1036,323.8L1037,335.3L1037.6,323.3L1039,333.7L1040,317.4L1040.9,337.5L1041.6,312.3L1042.4,332.6L1043.3,309.8L1044.7,339.4L1045.4,323.3L1046.6,308.6L1047.2,314.4L1048.5,323.4L1049.1,328.1L1050,320L1050.9,304.8L1052,295.7L1052.8,303.3L1053.8,311L1055,316.4L1056.1,307.9L1056.9,295L1057.6,274.9L1058.8,283.7L1059.7,295.3L1060.5,281.4L1061.5,291.5L1062.5,280.6L1063.4,277.5L1064.6,282.4L1065.5,298.4L1066.1,288.6L1067.4,315.1L1068.1,288.3L1069.1,302.7L1070.3,274.9L1070.9,307.8L1072,298.7L1072.9,316.3L1074,300.8L1074.7,311.5L1075.9,299.4L1076.7,310.4L1077.8,304.7L1078.8,313.8L1079.6,277.5L1080.5,310.2L1081.3,293.4L1082.5,298.3L1083.5,288.6L1084.5,300.5L1085.6,289.8L1086.1,252.9L1087.4,284.9L1088.2,298.3L1089.1,280.9L1089.9,291.5L1091.1,274.9L1092,247.7L1093,265L1093.9,284.8L1095.1,268L1095.6,279.6L1096.8,270.3L1097.6,282.5L1098.5,265.5L1099.7,277.7L1100.6,264.3L1101.7,275.5L1102.7,287.9L1103.4,279.2L1104.4,262.2L1105.2,272.9L1106.1,251.6L1107.4,269.8L1108,255.6L1109.3,268.2L1110,251.1L1110.9,267.7L1111.9,254.3L1112.9,295.7L1114,256.2L1114.9,267.9L1115.7,262L1116.6,268.9L1117.6,253.2L1118.4,272.3L1119.6,256L1120.7,236L1121.5,256.5L1122.4,267.3L1123.2,257.9L1124.3,270.7L1125.1,250.9L1126.1,269.6L1127.2,258.1L1128.2,277.1L1129.2,298.3L1129.8,278.9L1130.9,267.7L1131.8,285L1132.7,274.2L1133.7,294L1134.7,279.3L1135.5,291.2L1136.7,287.2L1137.8,300L1138.3,290.3L1139.3,272.3L1140.5,287L1141.4,302.1L1142.5,292.6L1143.1,309.3L1144.1,288.4L1145.1,321.6L1146.4,279.8L1147.2,289.6L1148.2,287.9L1148.8,284.5L1149.8,272.5L1151.1,303.5L1151.7,256.9L1152.6,273.3L1153.5,255.8L1154.7,278.7L1155.4,244.6L1156.4,265L1157.4,249.7L1158.5,261.2L1159.4,238.8L1160.5,258.6L1161.6,295.7L1162.5,270.9L1163.4,274.9L1164.3,284.8L1165,277.4L1166.3,299.4L1167.2,287.3L1167.8,299.2L1168.9,276.8L1170.1,292.2L1170.8,273.4L1172,282L1172.6,270.4L1173.6,259.4L1174.5,275.4L1175.4,294.8L1176.4,293.1L1177.5,302.4L1178.4,290.6L1179.2,277.5L1180.5,300.5L1181.1,334.9L1182.3,310.2L1183.4,332.6L1184.4,307.5L1185.1,329.1L1186.2,315.8L1187,336.2L1188.1,318.2L1188.9,287.9L1189.8,304.2L1190.8,313.9L1191.8,297.7L1192.5,307.9L1193.8,293.3L1194.5,334.6L1195.5,273.7L1196.5,282.5L1197.6,279.9L1198.6,292.8L1199.3,273.1L1200.3,298L1201.5,273L1202.4,291.7L1203.3,272L1203.9,276.7L1204.9,270.4L1206.1,285.5L1207.2,274.4L1208.1,287.7L1208.6,269.8L1209.7,291.2L1210.6,257.8L1211.5,269.3L1212.8,240.3L1213.8,266.7L1214.6,244L1215.7,276.5L1216.5,251.7L1217.6,315.2L1218.5,279L1219.3,318L1220.4,302.4L1221,313.4L1222.1,283.4L1223.2,310.8L1223.9,261.4L1224.9,279.4L1226.2,258.9L1226.8,276.1L1227.7,262.1L1229,283L1229.9,256.5L1230.6,292L1231.9,281.9L1232.7,293.8L1233.7,273.8L1234.5,296.9L1235.2,283.8L1236.4,262L1237.2,278.8L1238.5,289.8L1239.3,268.2L1240.2,287.9L1241,272.3L1242.1,291.1L1243.1,262.9L1243.8,246.4L1244.7,261L1245.8,278.6L1247,268L1247.7,283.2L1248.8,272.1L1249.5,291.2L1250.6,261.6L1251.5,283.5L1252.5,263.1L1253.4,293.7L1254.5,261.6L1255.3,335.3L1256.5,293.9L1257.2,326.5L1258.2,292.2L1259,291.1L1260,273.9L1261,289.6L1262.3,255.6L1262.8,276L1263.9,252.8L1264.8,290.9L1265.8,258.2L1266.7,324.5L1267.7,301.8L1268.9,342.7L1269.8,287.9L1270.6,338.8L1271.4,284.7L1272.3,317.7L1273.4,246.8L1274.3,285.7L1275.6,251.1L1276.4,267.1L1277.4,254.8L1278,273L1279.3,254.4L1279.9,269.7L1281.3,252.8L1282.1,252.6L1283.1,237.1L1283.7,251.6L1285,235.9L1286,244.9L1286.6,210.1L1287.7,266.9L1288.5,240.4L1289.7,267.8L1290.8,240.4L1291.3,260.8L1292.6,255.7L1293.5,263.5L1294.2,248.7L1295.1,282.7L1296.3,247.3L1297.3,255.9L1298.2,231.6L1299.1,251.2L1300.3,234.1L1301,264.6L1302.2,228.2L1303.1,316.7L1303.8,273.4L1305,305.7L1305.7,292.6L1306.8,316.5L1307.4,299L1308.7,304.8L1309.5,291.1L1310.4,300.8L1311.3,283.1L1312.2,293.5L1313.4,281.2L1314.2,293.1L1315.5,262L1316.1,299.9L1317.3,280.6L1318.3,290L1318.9,281.2L1320,328.1L1321,281.2L1321.8,299.1L1322.7,272.3L1323.9,292.2L1324.6,276L1325.6,303.5L1326.5,272L1327.8,277.5L1328.8,280.3L1329.3,293.9L1330.3,313.8L1331.5,302L1332.2,279.8L1333.5,294.1L1334.1,284.4L1335.4,246.4L1336.1,295.6L1337.1,307.5L1338,283.9L1339.2,302.2L1340,280.5L1340.8,288.7L1342,258.7L1342.9,293.1L1343.7,256.1L1344.8,287L1345.8,223.1L1346.8,287.3L1347.3,248.9L1348.5,330.7L1349.5,270.1L1350.2,286.8L1351.5,269.2L1352.2,301.4L1353.3,278.6L1354.1,308.3L1355.3,285.4L1356.2,315.1L1357.2,277.7L1357.8,302.4L1358.8,280.5L1359.9,300.2L1361.1,267.4L1361.7,273.7L1363,249.2L1363.6,266.2L1364.6,240.6L1365.6,250.2L1366.6,224.4L1367.5,273.4L1368.5,248.8L1369.6,292L1370.3,272.2L1371.4,324.9L1372.2,294L1373,322.8L1374.4,274L1374.9,291.9L1376.2,238.3L1377.1,274.3L1377.8,216.4L1378.9,233.6L1379.6,256.1L1380.8,286.5L1382,267.7L1382.6,301.3L1383.9,291.6L1384.6,307L1385.6,279.2L1386.3,308.4L1387.3,250.7L1388.5,286.3L1389.6,223.1L1390.2,251.2L1391.4,218.2L1392.2,237.2L1393,272.3L1394.1,227.7L1395,241.2L1396,231.9L1397.1,277.5L1398.1,239.3L1398.7,232.1L1399.8,237L1400.6,221.4L1401.6,234.9L1402.5,205.8L1403.8,225.4L1404.5,207.1L1405.6,225.7L1406.3,206.5L1407.4,221L1408.4,202.9L1409.4,231.1L1410.3,215.2L1411,226.4L1412.3,262L1413,232.2L1414.2,220.6L1415.2,235.8L1415.9,212L1416.8,232.2L1417.6,211.7L1418.9,225.2L1419.8,215.7L1420.7,260.1L1421.7,212.8L1422.6,270.9L1423.6,244L1424.6,268.7L1425.4,224.7L1426.2,249.4L1427.5,227.6L1428.2,204.9L1429.2,227.2L1430.4,238.7L1431,281.4L1432.2,242L1432.9,217.4L1433.8,225L1434.7,206.5L1436.1,223.6L1436.7,200L1437.9,213L1438.5,201.6L1439.7,230.6L1440.5,202.9L1441.6,253.6L1442.6,222.8L1443.7,287.9L1444.3,240L1445.6,254.9L1446.2,262L1447.4,260.3L1448.2,255.6L1449.3,297L1450.3,261L1451.1,269.3L1452,262L1453.1,285.7L1454.1,263.3L1454.8,284.9L1455.9,262.8L1456.8,280.1L1457.8,251.6L1458.7,274.2L1459.8,257.8L1460.7,272.9L1461.6,282.7L1462.3,260.6L1463.3,239.7L1464.3,250L1465.3,239.2L1466.4,254.1L1467.5,223.7L1468.4,266.2L1469.2,225.8L1470.2,314.2L1471.1,289.3L1472.2,317.2L1472.7,290L1473.8,310.1L1475,277.4L1475.7,280.4L1476.6,254.9L1477.5,284L1478.7,251.6L1479.8,271.3L1480.4,235.5L1481.4,285.8L1482.2,243.8L1483.4,281.4L1484.4,246.9L1485.2,295.5L1486.2,295L1487.2,329.4L1488.4,302.9L1489.2,304.9L1490.3,290.8L1491,311.5L1491.8,259.7L1492.9,279.9L1494.1,248.4L1494.7,262.5L1496,235.9L1496.5,244L1497.6,235.2L1498.4,244.1L1499.5,295.7L1500.4,244.1L1501.7,232.8L1502.3,267.2L1503.5,243.2L1504.2,303.5L1505.5,244.9L1506.4,255.4L1507.3,256.8L1508.1,268.4L1509,293.1L1510.2,260.5L1511.1,253.5L1511.9,251.6L1513,255.3L1513.9,317.7L1514.6,260.6L1515.9,268.4L1516.6,243.8L1517.4,281.5L1518.6,307.3L1519.5,280.9L1520.7,256.3L1521.5,269.8L1522.4,243.7L1523.1,272.8L1524.3,231.4L1525,254.9L1526.1,320.3L1527.3,256.7L1528,234.2L1529.2,260.7L1530.2,219.8L1530.7,252.6L1532,223L1533,246L1533.5,218.3L1534.9,254.2L1535.5,223.6L1536.5,265.3L1537.7,250.2L1538.5,298.3L1539.4,251.7L1540.5,251.6L1541.2,238.8L1542.5,247.1L1543.4,277.5L1544.2,241.1L1545.2,241.2L1545.9,234L1546.9,216.2L1547.8,256.8L1549,218.7L1550,232.6L1550.7,218.6L1551.6,235.8L1552.9,217.5L1553.9,235.1L1554.7,226.7L1555.6,234L1556.6,226.7L1557.4,233.5L1558.2,228.2L1559.4,204.9L1560.4,246.3L1561.3,257.3L1562.4,249.6L1563.1,289.2L1564.4,254.7L1564.9,278.5L1566,264.1L1566.8,268.9L1568,243L1568.8,282.7L1569.9,238.5L1571,249.3L1571.6,241.9L1572.7,250.9L1573.5,240.2L1574.6,250.4L1575.3,243.6L1576.5,252.5L1577.2,239.8L1578.5,262L1579.4,232.9L1580.5,236L1581.4,257L1582.4,267.3L1583.3,250.1L1584.3,272L1584.9,255.8L1585.8,275.2L1587,252.1L1587.7,268.9L1589.1,262L1589.6,286.5L1591,274.4L1591.8,278.2L1592.5,256.6L1593.5,276.6L1594.6,228.2L1595.7,252.1L1596.4,227.9L1597.6,252L1598.4,222.1L1599.3,236.8L1600.1,317.7L1601.2,243.4L1602.1,251.6L1602.9,248.5L1604.3,287.9L1604.9,259.2L1606,246.4L1607.1,294.4L1608,247.4L1608.7,257L1609.8,245.3L1610.9,236L1611.7,240.5L1612.5,247.4L1613.5,267.2L1614.7,244.5L1615,262" stroke="#ff7f0e" stroke-width="2.15"/></g><text x="203.5" y="382.7" font-size="12" text-anchor="middle" fill="#444" textLength="57" lengthAdjust="spacingAndGlyphs">Nov 2023</text><text x="390.5" y="382.7" font-size="12" text-anchor="middle" fill="#444" textLength="55" lengthAdjust="spacingAndGlyphs">Jan 2024</text><text x="575.5" y="382.7" font-size="12" text-anchor="middle" fill="#444" textLength="57" lengthAdjust="spacingAndGlyphs">Mar 2024</text><text x="762.5" y="382.7" font-size="12" text-anchor="middle" fill="#444" textLength="59" lengthAdjust="spacingAndGlyphs">May 2024</text><text x="949.5" y="382.7" font-size="12" text-anchor="middle" fill="#444" textLength="51" lengthAdjust="spacingAndGlyphs">Jul 2024</text><text x="1140.5" y="382.7" font-size="12" text-anchor="middle" fill="#444" textLength="57" lengthAdjust="spacingAndGlyphs">Sep 2024</text><text x="1327.5" y="382.7" font-size="12" text-anchor="middle" fill="#444" textLength="57" lengthAdjust="spacingAndGlyphs">Nov 2024</text><text x="1515.5" y="382.7" font-size="12" text-anchor="middle" fill="#444" textLength="55" lengthAdjust="spacingAndGlyphs">Jan 2025</text><text x="78.3" y="113.8" font-size="12" text-anchor="end" fill="#444" textLength="14" lengthAdjust="spacingAndGlyphs">40</text><text x="78.3" y="164.8" font-size="12" text-anchor="end" fill="#444" textLength="14" lengthAdjust="spacingAndGlyphs">30</text><text x="78.3" y="216.8" font-size="12" text-anchor="end" fill="#444" textLength="14" lengthAdjust="spacingAndGlyphs">20</text><text x="78.3" y="267.8" font-size="12" text-anchor="end" fill="#444" textLength="14" lengthAdjust="spacingAndGlyphs">10</text><text x="78.3" y="319.8" font-size="12" text-anchor="end" fill="#444" textLength="6.5" lengthAdjust="spacingAndGlyphs">0</text><text x="78.3" y="371.8" font-size="12" text-anchor="end" fill="#444" textLength="23" lengthAdjust="spacingAndGlyphs">−10</text><text x="900" y="50.2" font-size="17" text-anchor="middle" fill="#444" textLength="108.3" lengthAdjust="spacingAndGlyphs">Temperature</text><text x="847.5" y="421.9" font-size="14" text-anchor="middle" fill="#444" textLength="34.2" lengthAdjust="spacingAndGlyphs">Time</text><text transform="translate(42.2,235.7) rotate(-90)" font-size="14" text-anchor="middle" fill="#444" textLength="88.8" lengthAdjust="spacingAndGlyphs">Temperature</text><path d="M1650.6,114.3h30" stroke="#1f77b4" stroke-width="2"/><path d="M1650.6,133.3h30" stroke="#ff7f0e" stroke-width="2"/><text x="1686" y="118.5" font-size="12" text-anchor="start" fill="#444" textLength="95.4" lengthAdjust="spacingAndGlyphs">Air temperature</text><text x="1686" y="137.6" font-size="12" text-anchor="start" fill="#444" textLength="60.7" lengthAdjust="spacingAndGlyphs">Dew point</text></svg></div>
<div class="chart" style="top:944px"><svg class="plot" width="1800" height="450" viewBox="0 0 1800 450" font-family="Liberation Sans, sans-serif"><path d="M205.5,100V370" stroke="#eee"/><path d="M396.5,100V370" stroke="#eee"/><path d="M583.5,100V370" stroke="#eee"/><path d="M774.5,100V370" stroke="#eee"/><path d="M965.5,100V370" stroke="#eee"/><path d="M1158.5,100V370" stroke="#eee"/><path d="M1349.5,100V370" stroke="#eee"/><path d="M1540.5,100V370" stroke="#eee"/><path d="M80,108.5H1642" stroke="#eee"/><path d="M323.3,113.3V370" stroke="#1f77b4" stroke-width="2" fill="none"/><text x="78.3" y="112.8" font-size="12" text-anchor="end" fill="#444" textLength="22" lengthAdjust="spacingAndGlyphs">100</text><text x="900" y="50" font-size="17" text-anchor="middle" fill="#444" textLength="100.6" lengthAdjust="spacingAndGlyphs">Wind Speed</text><path d="M1678.2,114.3h30" stroke="#1f77b4" stroke-width="2"/><path d="M1678.2,133.3h30" stroke="#ff7f0e" stroke-width="2"/><text x="1714" y="118.6" font-size="12" text-anchor="start" fill="#444" textLength="66" lengthAdjust="spacingAndGlyphs">Wind gusts</text><text x="1714" y="137.6" font-size="12" text-anchor="start" fill="#444" textLength="69" lengthAdjust="spacingAndGlyphs">Wind speed</text></svg></div>
</main>
<div class="sb"><i class="up"></i><i class="thumb"></i><i class="down"></i></div>
</body>
</html>
